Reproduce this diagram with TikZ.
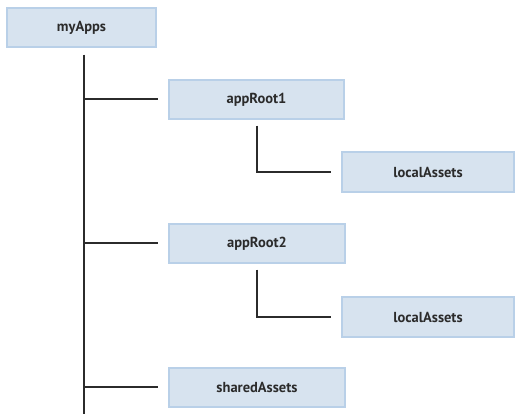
\documentclass[tikz,border=0pt]{standalone}
\usepackage{fontspec}
\setmainfont{PT Sans}
\usepackage{xcolor}
\usetikzlibrary{positioning}

\definecolor{boxfill}{HTML}{D7E3EF}
\definecolor{boxline}{HTML}{B9D0E8}
\definecolor{treeline}{HTML}{2B2B2B}

\tikzset{
  folder/.style={draw=boxline, line width=1.5pt, fill=boxfill, rectangle,
    minimum height=39pt, font=\fontsize{14.5}{17}\selectfont\bfseries, text=treeline},
  branch/.style={draw=treeline, line width=2pt}
}

\begin{document}
\begin{tikzpicture}[x=1pt, y=-1pt]
\useasboundingbox (0,0) rectangle (515,414);

% Root box
\node[folder, minimum width=149pt] (myApps) at (81.5,27.5) {myApps};

% App roots
\node[folder, minimum width=175pt] (appRootA) at (256.5,99.5) {appRoot1};
\node[folder, minimum width=176pt] (appRootB) at (257,243.5) {appRoot2};
\node[folder, minimum width=176pt] (shared) at (257,387.5) {sharedAssets};

% Local assets
\node[folder, minimum width=172pt, minimum height=40pt] (localA) at (428,172) {localAssets};
\node[folder, minimum width=172pt, minimum height=40pt] (localB) at (428,317) {localAssets};

% Trunk
\coordinate (trunk) at ([xshift=2.5pt, yshift=-7pt]myApps.south);
\coordinate (trunkend) at (trunk |- 0,414);
\draw[branch] (trunk) -- (trunkend);

% Branches
\draw[branch] (appRootA.west -| trunk) -- ([xshift=-10pt]appRootA.west);
\draw[branch] (appRootB.west -| trunk) -- ([xshift=-10pt]appRootB.west);
\draw[branch] (shared.west -| trunk) -- ([xshift=-10pt]shared.west);
\draw[branch] ([yshift=-6pt]appRootA.south) |- ([xshift=-10pt]localA.west);
\draw[branch] ([yshift=-6pt]appRootB.south) |- ([xshift=-10pt]localB.west);
\end{tikzpicture}
\end{document}
